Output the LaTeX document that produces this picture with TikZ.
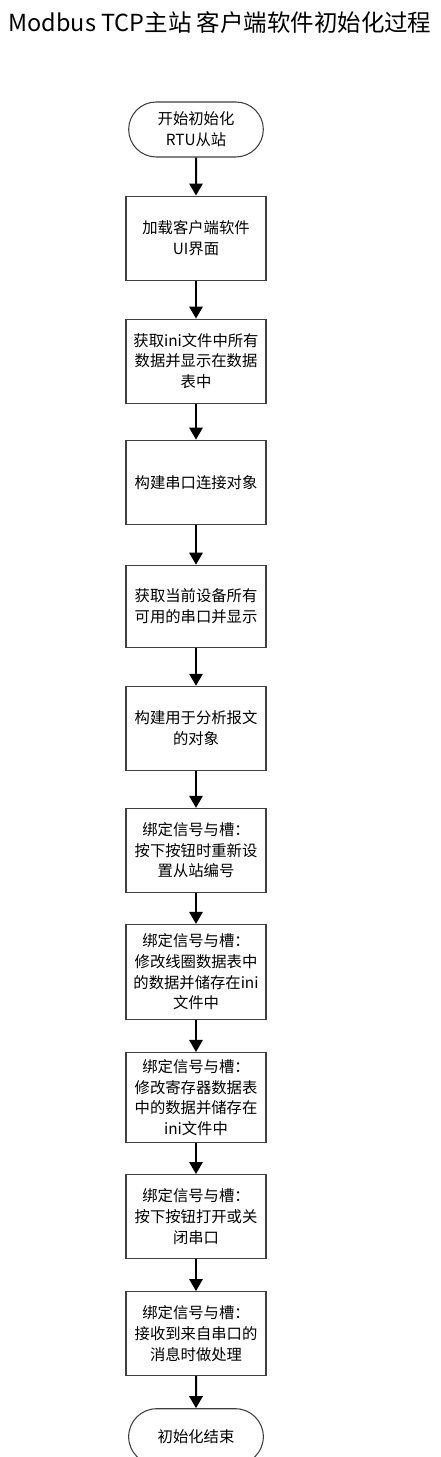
\documentclass[tikz,border=0pt]{standalone}
\usepackage{fontspec}
\setmainfont{Noto Sans CJK SC}
\usetikzlibrary{arrows.meta,shapes,positioning}

\begin{document}
\begin{tikzpicture}[node distance=28.5pt, >={Triangle[width=10pt,length=9pt]}, font=\fontsize{11.5}{15.5}\selectfont,
                proc/.style={rectangle, draw=black!75, line width=0.8pt, minimum width=105pt, minimum height=63pt, align=center, inner sep=2pt},
                term/.style={rounded rectangle, draw=black!75, line width=0.8pt, minimum width=105pt, minimum height=41.25pt, align=center, inner sep=2pt}]
                \useasboundingbox (0,0) rectangle (330pt,-1092.75pt);
                \node (title) at (165pt,-17.25pt) {\fontsize{17.6}{21}\selectfont Modbus TCP主站 客户端软件初始化过程};
                \node[term] (0) at (147pt,-97.1pt) {开始初始化\\RTU从站};
                \node[proc, below=of 0] (1) {加载客户端软件\\UI界面};
                \node[proc, below=of 1] (2) {获取ini文件中所有\\数据并显示在数据\\表中};
                \node[proc, below=27pt of 2] (3) {构建串口连接对象};
                \node[proc, below=30pt of 3, minimum height=61.5pt] (4) {获取当前设备所有\\可用的串口并显示};
                \node[proc, below=of 4] (5) {构建用于分析报文\\的对象};
                \node[proc, below=27.75pt of 5] (6) {绑定信号与槽：\\按下按钮时重新设\\置从站编号};
                \node[proc, below=23.25pt of 6, minimum height=71.25pt] (7) {绑定信号与槽：\\修改线圈数据表中\\的数据并储存在ini\\文件中};
                \node[proc, below=24pt of 7, minimum height=67.5pt] (8) {绑定信号与槽：\\修改寄存器数据表\\中的数据并储存在\\ini文件中};
                \node[proc, below=23.25pt of 8] (9) {绑定信号与槽：\\按下按钮打开或关\\闭串口};
                \node[proc, below=24pt of 9] (10) {绑定信号与槽：\\接收到来自串口的\\消息时做处理};
                \node[term, below=24pt of 10, minimum height=42pt] (11) {初始化结束};

                \path[->, line width=1.5pt]
                          (0) edge (1)
                          (1) edge (2)
                          (2) edge (3)
                          (3) edge (4)
                          (4) edge (5)
                          (5) edge (6)
                          (6) edge (7)
                          (7) edge (8)
                          (8) edge (9)
                          (9) edge (10)
                          (10) edge (11);
            \end{tikzpicture}
\end{document}
